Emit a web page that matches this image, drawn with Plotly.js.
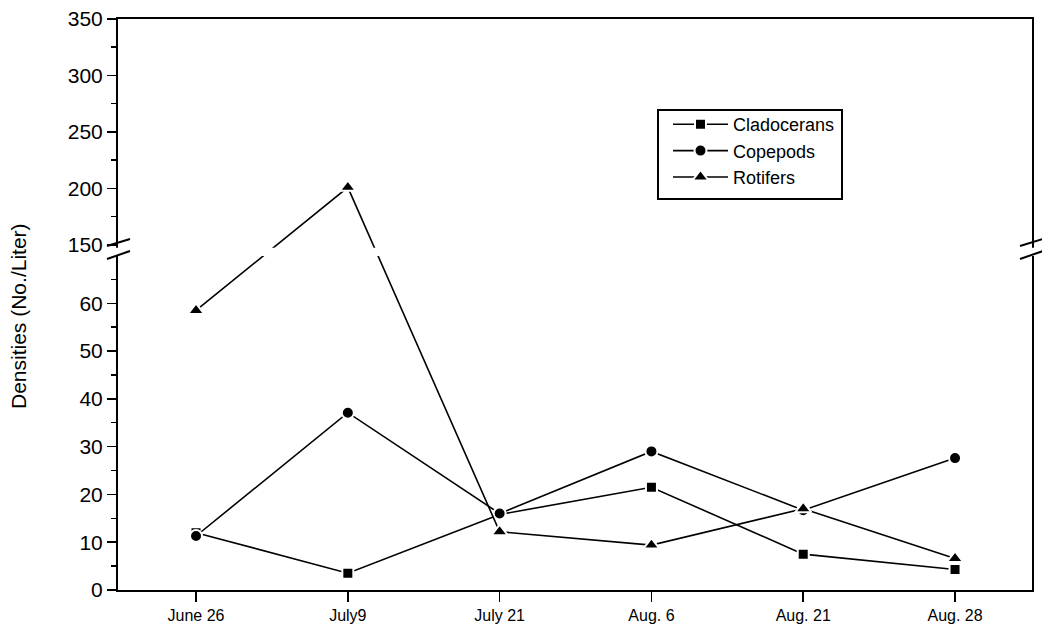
<!DOCTYPE html>
<html>
<head>
<meta charset="utf-8">
<script src="https://cdn.plot.ly/plotly-3.0.1.min.js"></script>
<style>html,body{margin:0;padding:0;background:#fff;}#chart{width:1042px;height:635px;}</style>
</head>
<body>
<div id="chart"></div>
<script>
// ---- data ----
const dates = ['June 26', 'July9', 'July 21', 'Aug. 6', 'Aug. 21', 'Aug. 28'];
const cladocerans = [12, 3.5, 15.8, 21.5, 7.5, 4.3];
const copepods = [11.3, 37.1, 16, 29, 16.7, 27.6];
const rotifers = [58.5, 201, 12.2, 9.4, 17, 6.6];
const lowerTickVals = [0, 10, 20, 30, 40, 50, 60];
const upperTickVals = [150, 200, 250, 300, 350];
const lowerMinor = [5, 15, 25, 35, 45, 55, 65];
const upperMinor = [175, 225, 275, 325];
const yTitle = 'Densities (No./Liter)';

// ---- broken axis transform (lower segment 0..~70, upper 150..350 compressed) ----
const BREAK_LOW = 100;          // values above this belong to the upper segment
const UPPER_BASE = 72.2;        // display position of 150
const UPPER_SCALE = 0.2364;     // compression of the upper segment
function disp(v) { return v <= BREAK_LOW ? v : UPPER_BASE + (v - 150) * UPPER_SCALE; }
const DMAX = disp(350);

const font = 'Liberation Sans, Arial, Helvetica, sans-serif';
const lineStyle = {color: '#000', width: 1.6};
const mline = {color: '#fff', width: 2};

function trace(name, vals, symbol, size) {
  return {
    type: 'scatter', mode: 'lines+markers', name: name,
    x: dates, y: vals.map(disp),
    line: lineStyle,
    marker: {symbol: symbol, size: size, color: '#000', line: mline},
    cliponaxis: false
  };
}

const data = [
  trace('Cladocerans', cladocerans, 'square', 11),
  trace('Copepods', copepods, 'circle', 12),
  trace('Rotifers', rotifers, 'triangle-up', 14)
];

// pixel helpers for decorations (plot area: x 118..1032, y 19..590)
const L = 118, R = 1032, T = 19, B = 590;
const px = x => (x - L) / (R - L);
const py = y => (B - y) / (B - T);

const shapes = [
  // white band hiding the lines and axis across the break
  {type: 'rect', xref: 'paper', yref: 'paper', x0: px(113), x1: px(1037),
   y0: disp(69.9) / DMAX, y1: disp(147.5) / DMAX, fillcolor: '#fff', line: {width: 0}, layer: 'above'},
  // break marks left
  {type: 'line', xref: 'paper', yref: 'paper', x0: px(107), y0: py(246), x1: px(130), y1: py(239), line: {color: '#000', width: 2}, layer: 'above'},
  {type: 'line', xref: 'paper', yref: 'paper', x0: px(107), y0: py(259), x1: px(130), y1: py(251), line: {color: '#000', width: 2}, layer: 'above'},
  // break marks right
  {type: 'line', xref: 'paper', yref: 'paper', x0: px(1020), y0: py(246), x1: px(1043), y1: py(239), line: {color: '#000', width: 2}, layer: 'above'},
  {type: 'line', xref: 'paper', yref: 'paper', x0: px(1020), y0: py(259), x1: px(1043), y1: py(251), line: {color: '#000', width: 2}, layer: 'above'},
  // legend frame
  {type: 'rect', xref: 'paper', yref: 'paper', x0: px(658), x1: px(842), y0: py(110), y1: py(199),
   line: {color: '#000', width: 2}, fillcolor: 'rgba(0,0,0,0)', layer: 'above'}
];

const layout = {
  width: 1042, height: 635,
  margin: {l: L, r: 1042 - R, t: T, b: 635 - B},
  paper_bgcolor: '#fff', plot_bgcolor: '#fff',
  font: {family: font, color: '#000'},
  showlegend: true,
  legend: {
    x: px(668), y: py(106), xanchor: 'left', yanchor: 'top',
    borderwidth: 0, bgcolor: 'rgba(0,0,0,0)',
    font: {size: 18, family: font, color: '#000'},
    itemwidth: 55, tracegroupgap: 0
  },
  xaxis: {
    type: 'category', range: [-0.514, 5.507],
    showline: true, linecolor: '#000', linewidth: 2, mirror: true,
    ticks: 'outside', ticklen: 10, tickwidth: 1.5, tickcolor: '#000',
    showgrid: false, zeroline: false,
    tickfont: {size: 16, family: font, color: '#000'}
  },
  yaxis: {
    range: [0, DMAX],
    showline: true, linecolor: '#000', linewidth: 2, mirror: true,
    ticks: 'outside', ticklen: 9, tickwidth: 1.5, tickcolor: '#000',
    tickmode: 'array',
    tickvals: lowerTickVals.concat(upperTickVals).map(disp),
    ticktext: lowerTickVals.concat(upperTickVals).map(String),
    minor: {tickmode: 'array', tickvals: lowerMinor.concat(upperMinor).map(disp), ticks: 'outside', ticklen: 5, tickwidth: 1.5, tickcolor: '#000', showgrid: false},
    showgrid: false, zeroline: false,
    tickfont: {size: 21, family: font, color: '#000'}
  },
  annotations: [{
    text: yTitle, xref: 'paper', yref: 'paper', x: px(19), y: py(316),
    xanchor: 'center', yanchor: 'middle', textangle: -90, showarrow: false,
    font: {size: 21, family: font, color: '#000'}
  }],
  shapes: shapes
};

Plotly.newPlot('chart', data, layout, {displayModeBar: false, staticPlot: true});
</script>
</body>
</html>
